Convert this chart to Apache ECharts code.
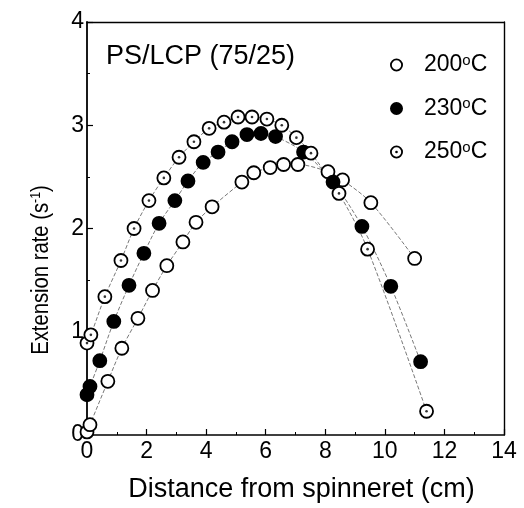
<!DOCTYPE html>
<html><head><meta charset="utf-8">
<script src="https://cdn.jsdelivr.net/npm/echarts@6/dist/echarts.min.js"></script>
<style>html,body{margin:0;padding:0;background:#fff}#c{width:524px;height:508px}</style>
</head><body><div id="c"></div>
<script>
const seriesNames = ['200°C', '230°C', '250°C'];

const x200 = [0, 0.1, 0.7, 1.17, 1.71, 2.2, 2.68, 3.22, 3.66, 4.2, 5.2, 5.6, 6.15, 6.6, 7.08, 8.09, 8.58, 9.53, 11.0];
const y200 = [0.03, 0.1, 0.52, 0.84, 1.13, 1.40, 1.64, 1.87, 2.06, 2.21, 2.45, 2.54, 2.59, 2.62, 2.62, 2.55, 2.47, 2.25, 1.71];

const x230 = [0, 0.1, 0.43, 0.9, 1.41, 1.91, 2.42, 2.95, 3.39, 3.9, 4.4, 4.87, 5.37, 5.84, 6.33, 7.27, 8.26, 9.23, 10.2, 11.2];
const y230 = [0.39, 0.47, 0.72, 1.10, 1.45, 1.76, 2.05, 2.27, 2.46, 2.64, 2.74, 2.84, 2.91, 2.92, 2.89, 2.74, 2.45, 2.02, 1.44, 0.71];

const x250 = [0, 0.13, 0.6, 1.14, 1.58, 2.08, 2.58, 3.09, 3.59, 4.1, 4.6, 5.07, 5.54, 6.04, 6.54, 7.03, 7.52, 8.46, 9.42, 11.4];
const y250 = [0.89, 0.97, 1.34, 1.69, 2.0, 2.27, 2.49, 2.69, 2.84, 2.97, 3.03, 3.08, 3.08, 3.06, 3.0, 2.88, 2.73, 2.34, 1.80, 0.23];

const xRange = [0, 14];
const yRange = [0, 4];

const zip = (xs, ys) => xs.map((v, i) => [v, ys[i]]);
const FONT = '"Liberation Sans", Arial, sans-serif';
const d200 = zip(x200, y200), d230 = zip(x230, y230), d250 = zip(x250, y250);
const fills = ['#fff', '#000', '#fff'];
const centreDot = [false, false, true];

const chart = echarts.init(document.getElementById('c'), null, { renderer: 'canvas' });
const lineStyle = { color: '#555', width: 0.8, type: [4, 2] };
const markerStyle = (fill) => ({ color: fill, borderColor: '#000', borderWidth: 1.8, opacity: 1 });

function legendLabel(name) {
  const m = name.match(/^(\d+)°C$/);
  return '{n|' + m[1] + '}{s|o}{n|C}';
}

const lineSeries = (name, data) => ({
  name: name + ' line', type: 'line', data: data, smooth: 0.3, symbol: 'none',
  lineStyle: lineStyle, z: 1, silent: true
});
const dotSeries = (name, data, fill) => ({
  name: name, type: 'scatter', data: data, symbol: 'circle', symbolSize: 13,
  itemStyle: markerStyle(fill), z: 3
});

// legend drawn as graphic elements (layout only)
const legendGraphics = [];
seriesNames.forEach((n, i) => {
  const cy = 65 + i * 43.5;
  legendGraphics.push({
    type: 'circle', shape: { cx: 396.5, cy: cy, r: 5.6 },
    style: { fill: fills[i], stroke: '#000', lineWidth: 1.8 }, z: 100
  });
  if (centreDot[i]) {
    legendGraphics.push({ type: 'circle', shape: { cx: 396.5, cy: cy, r: 1.3 }, style: { fill: '#000' }, z: 101 });
  }
  legendGraphics.push({
    type: 'text', x: 424, y: cy, z: 100,
    style: {
      text: legendLabel(n), align: 'left', verticalAlign: 'middle',
      rich: {
        n: { fontSize: 23, fontFamily: FONT, fill: '#000', lineHeight: 24 },
        s: { fontSize: 15, fontFamily: FONT, fill: '#000', lineHeight: 7, verticalAlign: 'top' }
      }
    }
  });
});

const option = {
  animation: false,
  backgroundColor: '#fff',
  title: {
    text: 'PS/LCP (75/25)', left: 101, top: 38,
    textStyle: { fontFamily: FONT, fontSize: 27, fontWeight: 'normal', color: '#000' }
  },
  grid: { left: 87, right: 20, top: 22, bottom: 72 },
  xAxis: [{
    type: 'value', min: xRange[0], max: xRange[1], interval: 2,
    name: 'Distance from spinneret (cm)', nameLocation: 'middle', nameGap: 41,
    nameTextStyle: { fontFamily: FONT, fontSize: 27, color: '#000', padding: [0, 0, 0, 12] },
    axisLine: { show: true, onZero: false, lineStyle: { color: '#000', width: 1.6 } },
    axisTick: { show: true, inside: true, length: 6, lineStyle: { color: '#000', width: 1.2 } },
    minorTick: { show: true, splitNumber: 2, length: 3, lineStyle: { color: '#000', width: 1 } },
    axisLabel: { fontFamily: FONT, fontSize: 23, color: '#000', margin: 5 },
    splitLine: { show: false }
  }, {
    type: 'value', position: 'top', min: xRange[0], max: xRange[1], interval: 2,
    axisLine: { show: true, onZero: false, lineStyle: { color: '#000', width: 1.4 } },
    axisTick: { show: false }, axisLabel: { show: false }, splitLine: { show: false }
  }],
  yAxis: [{
    type: 'value', min: yRange[0], max: yRange[1], interval: 1,
    axisLine: { show: true, onZero: false, lineStyle: { color: '#000', width: 1.8 } },
    axisTick: { show: true, inside: true, length: 6, lineStyle: { color: '#000', width: 1.2 } },
    minorTick: { show: true, splitNumber: 2, length: 3, lineStyle: { color: '#000', width: 1 } },
    axisLabel: { fontFamily: FONT, fontSize: 23, color: '#000', margin: 3 },
    splitLine: { show: false }
  }, {
    type: 'value', position: 'right', min: yRange[0], max: yRange[1], interval: 1,
    axisLine: { show: true, onZero: false, lineStyle: { color: '#000', width: 1.4 } },
    axisTick: { show: false }, axisLabel: { show: false }, splitLine: { show: false }
  }],
  graphic: [{
    type: 'text', x: 42, y: 270, rotation: Math.PI / 2, scaleX: 0.88,
    style: {
      text: '{n|Extension rate (s}{s|-1}{n|)}', align: 'center', verticalAlign: 'middle',
      rich: {
        n: { fontSize: 23, fontFamily: FONT, fill: '#000', lineHeight: 26 },
        s: { fontSize: 14, fontFamily: FONT, fill: '#000', lineHeight: 9, verticalAlign: 'top' }
      }
    }
  }].concat(legendGraphics),
  series: [
    lineSeries('200°C', d200),
    lineSeries('230°C', d230),
    lineSeries('250°C', d250),
    dotSeries('200°C', d200, fills[0]),
    dotSeries('230°C', d230, fills[1]),
    dotSeries('250°C', d250, fills[2]),
    { name: '250 centre', type: 'scatter', data: d250, symbol: 'circle', symbolSize: 2.6,
      itemStyle: { color: '#000' }, z: 4, silent: true }
  ]
};
chart.setOption(option);
</script>
</body></html>
